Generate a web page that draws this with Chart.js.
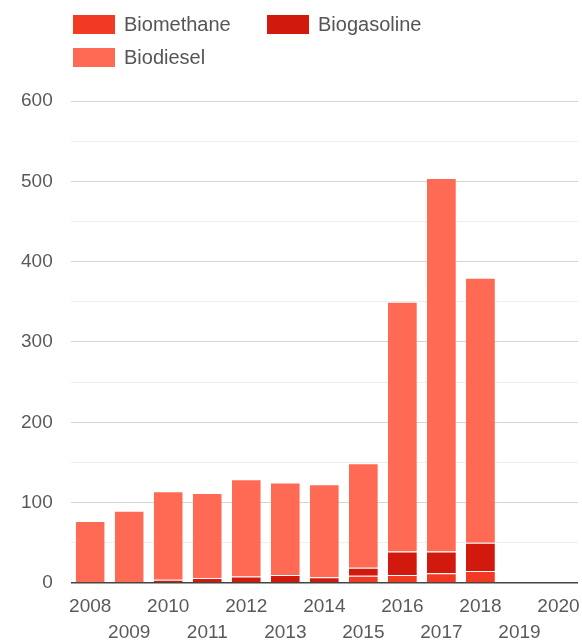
<!DOCTYPE html>
<html>
<head>
<meta charset="utf-8">
<script src="https://cdn.jsdelivr.net/npm/chart.js@4.4.0/dist/chart.umd.min.js"></script>
<style>
    body { margin: 0; background: #fff; }
    #wrap { position: relative; width: 582px; height: 644px; }
    #legend { position: absolute; left: 0; top: 0; width: 582px; height: 80px; }
    .item { position: absolute; font: 20px "Liberation Sans", Arial, sans-serif; color: #555; }
    .box { position: absolute; width: 42px; height: 19px; }
    .txt { position: absolute; white-space: nowrap; line-height: 19px; }
</style>
</head>
<body>
<div id="wrap">
    <canvas id="myChart" width="582" height="644"></canvas>
    <div id="legend"></div>
</div>
<script>
const years = ['2008', '2009', '2010', '2011', '2012', '2013', '2014', '2015', '2016', '2017', '2018', '2019', '2020'];
const biomethane = [0, 0, 0, 0, 0, 0, 0, 9, 10, 12, 15, 0, 0];
const biogasoline = [1, 1, 4, 6, 8, 10, 7, 10, 29, 27, 35, 0, 0];
const biodiesel = [76, 89, 110, 106, 121, 115, 116, 130, 311, 465, 330, 0, 0];
const yTicks = [0, 100, 200, 300, 400, 500, 600];

const textColor = '#5a5a5a';

const data = {
    labels: years,
    datasets: [{
        label: 'Biomethane',
        data: biomethane,
        backgroundColor: '#f23a22'
    }, {
        label: 'Biogasoline',
        data: biogasoline,
        backgroundColor: '#d11a0d'
    }, {
        label: 'Biodiesel',
        data: biodiesel,
        backgroundColor: '#ff6a55'
    }]
};

const config = {
    type: 'bar',
    data: data,
    options: {
        responsive: false,
        animation: false,
        layout: {
            autoPadding: false,
            padding: { top: 101, left: 3, right: 4, bottom: -13 }
        },
        datasets: {
            bar: {
                categoryPercentage: 1,
                barPercentage: 0.74,
                borderWidth: ctx => (ctx.raw > 0 ? { top: 1 } : 0),
                borderColor: 'rgba(255,255,255,0.55)',
                borderSkipped: 'start'
            }
        },
        scales: {
            x: {
                stacked: true,
                grid: { display: false, drawTicks: false },
                border: { display: false },
                // let the end labels hang over the plot edges
                afterFit: scale => {
                    scale.paddingLeft = 0;
                    scale.paddingRight = 0;
                },
                ticks: {
                    autoSkip: false,
                    maxRotation: 0,
                    minRotation: 0,
                    padding: 11,
                    color: textColor,
                    font: { family: '"Liberation Sans", Arial, sans-serif', size: 19, lineHeight: 1.37 },
                    // stagger the years over two rows
                    callback: function(value, index) {
                        const label = this.getLabelForValue(value);
                        return index % 2 ? ['', label] : [label, ''];
                    }
                }
            },
            y: {
                stacked: true,
                min: 0,
                max: 600,
                border: { display: false },
                grid: {
                    drawTicks: false,
                    color: ctx => {
                        const v = ctx.tick.value;
                        if (v === 0) return '#444';
                        return yTicks.includes(v) ? '#d4d4d4' : '#eeeeee';
                    },
                    lineWidth: ctx => (ctx.tick.value === 0 ? 1.6 : 1)
                },
                ticks: {
                    stepSize: 50,
                    padding: 18,
                    color: textColor,
                    font: { family: '"Liberation Sans", Arial, sans-serif', size: 19 },
                    callback: value => (yTicks.includes(value) ? value : '')
                }
            }
        },
        plugins: {
            legend: { display: false },
            tooltip: { enabled: false }
        }
    }
};

const chart = new Chart(document.getElementById('myChart'), config);

// legend: two items on the first row, one on the second
const legendSpots = [
    { left: 73, top: 15 },
    { left: 267, top: 15 },
    { left: 73, top: 48 }
];
const legend = document.getElementById('legend');
chart.data.datasets.forEach((ds, i) => {
    const spot = legendSpots[i];
    const item = document.createElement('div');
    item.className = 'item';
    item.style.left = spot.left + 'px';
    item.style.top = spot.top + 'px';
    const box = document.createElement('div');
    box.className = 'box';
    box.style.background = ds.backgroundColor;
    const txt = document.createElement('div');
    txt.className = 'txt';
    txt.style.left = '51px';
    txt.textContent = ds.label;
    item.appendChild(box);
    item.appendChild(txt);
    legend.appendChild(item);
});
</script>
</body>
</html>
